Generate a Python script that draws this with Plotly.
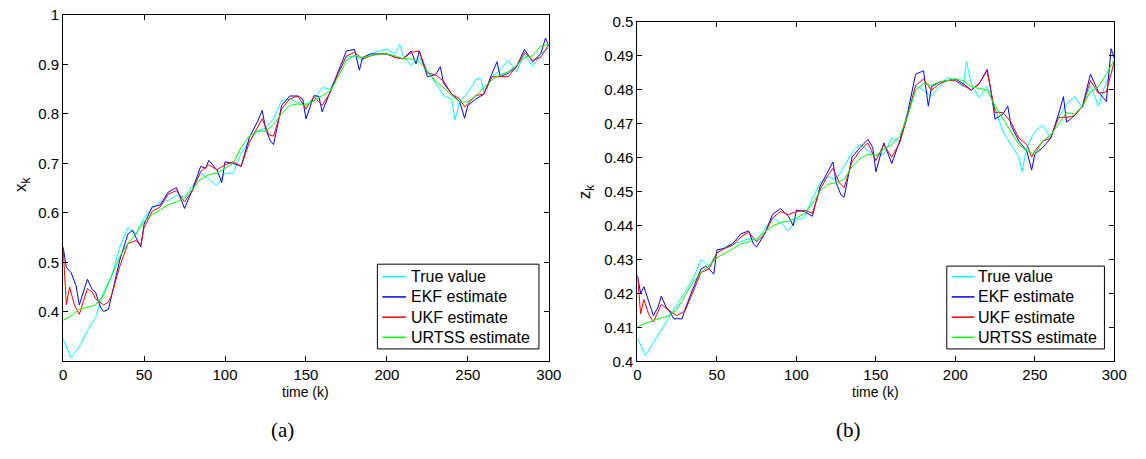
import plotly.graph_objects as go

# ---------------- data: panel (a) x_k ----------------
x_true_pts = [(0,0.346),(5,0.307),(10,0.330),(15,0.362),(20,0.388),(25,0.440),(30,0.473),(35,0.531),
              (40,0.570),(45,0.557),(50,0.590),(55,0.609),(60,0.622),(65,0.625),(70,0.635),(75,0.632),
              (80,0.655),(85,0.680),(90,0.668),(95,0.655),(100,0.680),(105,0.680),(110,0.720),(115,0.745),
              (120,0.765),(125,0.771),(130,0.790),(135,0.827),(140,0.830),(145,0.823),(150,0.820),
              (155,0.827),(160,0.853),(165,0.850),(170,0.882),(175,0.914),(180,0.917),(185,0.908),
              (190,0.921),(195,0.927),(200,0.930),(205,0.921),(208,0.940),(210,0.917),(215,0.898),
              (220,0.914),(225,0.888),(230,0.862),(235,0.837),(240,0.830),(242,0.788),(245,0.824),
              (250,0.843),(255,0.869),(258,0.872),(260,0.843),(265,0.875),(270,0.888),(275,0.908),
              (280,0.885),(285,0.921),(290,0.895),(295,0.921),(300,0.934)]

x_ekf_pts = [(0,0.531),(2,0.49),(5,0.479),(8,0.453),(10,0.414),(13,0.445),(15,0.466),(18,0.445),(20,0.44),
             (23,0.41),(25,0.401),(28,0.405),(30,0.434),(35,0.505),(40,0.557),(43,0.565),(45,0.55),(48,0.531),
             (50,0.577),(55,0.612),(60,0.616),(65,0.642),(70,0.651),(73,0.625),(75,0.609),(80,0.648),
             (85,0.694),(88,0.69),(90,0.706),(95,0.687),(98,0.661),(100,0.703),(105,0.70),(110,0.694),
             (115,0.752),(120,0.784),(123,0.807),(125,0.771),(128,0.745),(130,0.738),(135,0.817),
             (140,0.836),(145,0.836),(148,0.83),(150,0.79),(155,0.837),(158,0.835),(160,0.804),(165,0.846),
             (170,0.885),(175,0.927),(180,0.93),(183,0.888),(185,0.914),(190,0.921),(195,0.921),(200,0.921),
             (205,0.914),(210,0.911),(213,0.921),(215,0.927),(218,0.901),(220,0.927),(225,0.875),(230,0.879),
             (233,0.895),(235,0.862),(240,0.84),(245,0.824),(248,0.791),(250,0.817),(255,0.83),(260,0.84),
             (265,0.882),(268,0.905),(270,0.875),(275,0.882),(280,0.895),(285,0.93),(290,0.905),(295,0.921),
             (298,0.953),(300,0.937)]

x_ukf_pts = [(0,0.53),(2,0.414),(4,0.45),(7,0.414),(10,0.395),(15,0.447),(18,0.44),(20,0.427),(25,0.414),
             (28,0.42),(30,0.434),(35,0.492),(40,0.538),(45,0.544),(48,0.535),(50,0.57),(55,0.603),(60,0.612),
             (65,0.638),(70,0.645),(75,0.622),(80,0.645),(85,0.684),(90,0.697),(95,0.687),(100,0.697),
             (105,0.703),(110,0.694),(115,0.742),(120,0.771),(123,0.79),(127,0.758),(130,0.755),(135,0.81),
             (140,0.83),(145,0.836),(150,0.81),(155,0.835),(160,0.817),(165,0.843),(170,0.882),(175,0.917),
             (180,0.924),(185,0.911),(190,0.917),(195,0.921),(200,0.921),(205,0.914),(210,0.911),(215,0.924),
             (220,0.927),(225,0.882),(230,0.879),(235,0.866),(240,0.84),(245,0.83),(248,0.814),(250,0.82),
             (255,0.837),(260,0.84),(265,0.875),(270,0.875),(275,0.875),(280,0.895),(285,0.924),(290,0.908),
             (295,0.914),(300,0.94)]

urtss_time = list(range(0, 301, 5))
x_urtss = [0.383,0.392,0.405,0.409,0.414,0.434,0.473,0.512,0.538,0.557,
           0.583,0.596,0.606,0.616,0.622,0.629,0.648,0.668,0.677,0.680,
           0.690,0.700,0.732,0.755,0.765,0.765,0.778,0.800,0.817,0.820,
           0.817,0.827,0.837,0.846,0.875,0.908,0.917,0.914,0.917,0.921,
           0.921,0.917,0.911,0.911,0.905,0.885,0.866,0.853,0.837,0.824,
           0.824,0.837,0.853,0.869,0.879,0.885,0.898,0.914,0.917,0.937,0.940]

# ---------------- data: panel (b) z_k ----------------
z_true_pts = [(0,0.4069),(5,0.4018),(10,0.4055),(15,0.4093),(20,0.413),(25,0.4168),(30,0.4206),(35,0.4243),
              (40,0.43),(45,0.4281),(50,0.4319),(55,0.4337),(60,0.4347),(65,0.4352),(70,0.4361),(75,0.4356),
              (80,0.4389),(85,0.4422),(90,0.4408),(95,0.4384),(100,0.4417),(105,0.4422),(110,0.4479),
              (115,0.4526),(120,0.4544),(125,0.4535),(130,0.4573),(135,0.4615),(140,0.4638),(145,0.462),
              (150,0.4605),(155,0.461),(160,0.4657),(165,0.4648),(170,0.4723),(175,0.4812),(180,0.4798),
              (185,0.4779),(190,0.4808),(195,0.4836),(200,0.4826),(205,0.4808),(207,0.4883),(210,0.4817),
              (215,0.4775),(220,0.4808),(225,0.4746),(230,0.4676),(235,0.4638),(240,0.4601),(242,0.4558),
              (245,0.4629),(250,0.4676),(255,0.4695),(260,0.4657),(265,0.4718),(270,0.4756),(275,0.4779),
              (280,0.4746),(285,0.4812),(290,0.4751),(295,0.4822),(300,0.4864)]

z_ekf_pts = [(0,0.4253),(2,0.420),(4,0.422),(7,0.4178),(10,0.4135),(13,0.416),(15,0.4192),(18,0.416),
             (20,0.4149),(23,0.4125),(25,0.4126),(28,0.4125),(30,0.4154),(35,0.4215),(40,0.4272),(43,0.428),
             (45,0.4272),(48,0.4257),(50,0.4328),(55,0.4333),(60,0.4347),(65,0.4375),(70,0.4384),(73,0.4345),
             (75,0.4337),(80,0.4375),(85,0.4432),(90,0.445),(95,0.4427),(98,0.4399),(100,0.4445),(105,0.4441),
             (110,0.4427),(115,0.4516),(120,0.4563),(123,0.4587),(125,0.4526),(128,0.449),(130,0.4483),
             (135,0.4601),(140,0.4629),(145,0.4653),(148,0.463),(150,0.4558),(155,0.4643),(160,0.4582),
             (165,0.4648),(170,0.4732),(175,0.4845),(180,0.4855),(183,0.4751),(185,0.4808),(190,0.4822),
             (195,0.4826),(200,0.4831),(205,0.4817),(210,0.4798),(215,0.4817),(220,0.4859),(222,0.4808),
             (225,0.4713),(230,0.4728),(233,0.4751),(235,0.4695),(240,0.4648),(245,0.4619),(248,0.4563),
             (250,0.461),(255,0.4629),(260,0.4657),(265,0.4728),(268,0.4779),(270,0.4704),(275,0.4723),
             (280,0.4751),(285,0.4845),(290,0.4793),(295,0.4765),(298,0.492),(300,0.4892)]

z_ukf_pts = [(0,0.4253),(2,0.414),(4,0.4182),(7,0.414),(10,0.4116),(15,0.4168),(20,0.4149),(25,0.4135),
             (30,0.4149),(35,0.4206),(40,0.4262),(45,0.4272),(50,0.4319),(55,0.4333),(60,0.4342),(65,0.4366),
             (70,0.438),(75,0.4352),(80,0.4375),(85,0.4422),(90,0.4441),(95,0.4432),(100,0.4441),(105,0.4445),
             (110,0.4436),(115,0.4507),(120,0.4549),(123,0.4568),(127,0.4526),(130,0.4511),(135,0.4587),
             (140,0.462),(145,0.4643),(150,0.4591),(155,0.4638),(160,0.4601),(165,0.4643),(170,0.4723),
             (175,0.4812),(180,0.4831),(185,0.4798),(190,0.4817),(195,0.4826),(200,0.4826),(205,0.4812),
             (210,0.4798),(215,0.4817),(220,0.4855),(225,0.4732),(230,0.4732),(235,0.4704),(240,0.4657),
             (245,0.4638),(248,0.4601),(250,0.4619),(255,0.4648),(260,0.4657),(265,0.4718),(270,0.4718),
             (275,0.4723),(280,0.4751),(285,0.4826),(290,0.4789),(295,0.4793),(300,0.4883)]

z_urtss = [0.4102,0.4112,0.4121,0.4128,0.4135,0.4154,0.4192,0.4234,0.4262,0.4281,
           0.4305,0.4319,0.4333,0.4345,0.4352,0.4361,0.4380,0.4399,0.4408,0.4413,
           0.4422,0.4436,0.4464,0.4502,0.4521,0.4526,0.4535,0.4573,0.4596,0.4610,
           0.4606,0.4624,0.4638,0.4662,0.4723,0.4798,0.4817,0.4812,0.4822,0.4826,
           0.4831,0.4826,0.4808,0.4803,0.4798,0.4751,0.4713,0.4676,0.4638,0.4619,
           0.4610,0.4648,0.4666,0.4699,0.4732,0.4728,0.4751,0.4793,0.4808,0.4845,0.4888]

series_names = ["True value", "EKF estimate", "UKF estimate", "URTSS estimate"]
series_colors = ["#00FFFF", "#0000FF", "#FF0000", "#00FF00"]

x_ticks = [0, 50, 100, 150, 200, 250, 300]
ya_ticks = [0.4, 0.5, 0.6, 0.7, 0.8, 0.9, 1.0]
ya_labels = ["0.4", "0.5", "0.6", "0.7", "0.8", "0.9", "1"]
yb_ticks = [0.40, 0.41, 0.42, 0.43, 0.44, 0.45, 0.46, 0.47, 0.48, 0.49, 0.50]
yb_labels = ["0.4", "0.41", "0.42", "0.43", "0.44", "0.45", "0.46", "0.47", "0.48", "0.49", "0.5"]


def unzip(pts):
    return [p[0] for p in pts], [p[1] for p in pts]


W, H = 1146, 459
FONT = "Liberation Sans, Arial, Helvetica, sans-serif"
SERIF = "Liberation Serif, DejaVu Serif, serif"


def px_x(p):
    return p / W


def px_y(p):
    return 1 - p / H


fig = go.Figure()

panels = [
    ("x", "y", [unzip(x_true_pts), unzip(x_ekf_pts), unzip(x_ukf_pts), (urtss_time, x_urtss)]),
    ("x2", "y2", [unzip(z_true_pts), unzip(z_ekf_pts), unzip(z_ukf_pts), (urtss_time, z_urtss)]),
]
for xa, ya, data in panels:
    for (t, v), name, col in zip(data, series_names, series_colors):
        fig.add_trace(go.Scatter(x=t, y=v, mode="lines", name=name, xaxis=xa, yaxis=ya,
                                 showlegend=False, line=dict(color=col, width=1)))

axis_common = dict(showline=True, linecolor="black", linewidth=1, mirror="ticks",
                   ticks="inside", ticklen=5, tickcolor="black", showgrid=False,
                   zeroline=False, tickfont=dict(family=FONT, size=15, color="black"))

fig.update_layout(
    width=W, height=H, autosize=False,
    margin=dict(l=0, r=0, t=0, b=0),
    paper_bgcolor="white", plot_bgcolor="white",
    showlegend=False,
    xaxis=dict(domain=[px_x(60), px_x(553)], range=[0, 300], tickvals=x_ticks, anchor="y",
               ticklabelstandoff=0, **axis_common),
    yaxis=dict(domain=[px_y(366), px_y(6)], range=[0.3, 1.0], tickvals=ya_ticks, ticktext=ya_labels,
               anchor="x", **axis_common),
    xaxis2=dict(domain=[px_x(643), px_x(1127)], range=[0, 300], tickvals=x_ticks, anchor="y2",
                ticklabelstandoff=0, **axis_common),
    yaxis2=dict(domain=[px_y(366), px_y(13)], range=[0.4, 0.5], tickvals=yb_ticks, ticktext=yb_labels,
                anchor="x2", **axis_common),
)

annots = [
    dict(text="time (k)", x=px_x(306), y=px_y(398), font=dict(family=FONT, size=14)),
    dict(text="time (k)", x=px_x(885), y=px_y(398), font=dict(family=FONT, size=14)),
    dict(text="x<sub>k</sub>", x=px_x(19), y=px_y(182), textangle=-90, font=dict(family=FONT, size=17)),
    dict(text="z<sub>k</sub>", x=px_x(591), y=px_y(190), textangle=-90, font=dict(family=FONT, size=17)),
    dict(text="(a)", x=px_x(283), y=px_y(437), font=dict(family=SERIF, size=21)),
    dict(text="(b)", x=px_x(857), y=px_y(437), font=dict(family=SERIF, size=21)),
]
for a in annots:
    fig.add_annotation(xref="paper", yref="paper", showarrow=False, xanchor="center", yanchor="middle",
                       **{k: v for k, v in a.items() if k != "font"},
                       font=dict(color="black", **a["font"]))

# ---- hand-built legends (box, sample lines, labels) ----
legend_boxes = [
    dict(x0=379, x1=543, y0=265, y1=353, line_x0=384, line_x1=408, text_x=411),
    dict(x0=957, x1=1117, y0=267, y1=353, line_x0=962, line_x1=985, text_x=987),
]
item_rows = [278, 299, 320, 341]
for lb in legend_boxes:
    fig.add_shape(type="rect", xref="paper", yref="paper",
                  x0=px_x(lb["x0"]), x1=px_x(lb["x1"]), y0=px_y(lb["y1"]), y1=px_y(lb["y0"]),
                  line=dict(color="black", width=1), fillcolor="white", layer="above")
    for row, name, col in zip(item_rows, series_names, series_colors):
        fig.add_shape(type="line", xref="paper", yref="paper",
                      x0=px_x(lb["line_x0"]), x1=px_x(lb["line_x1"]), y0=px_y(row), y1=px_y(row),
                      line=dict(color=col, width=1.5), layer="above")
        fig.add_annotation(xref="paper", yref="paper", showarrow=False, xanchor="left", yanchor="middle",
                           x=px_x(lb["text_x"]), y=px_y(row), text=name,
                           font=dict(family=FONT, size=16, color="black"))

fig.write_html("out.html")
